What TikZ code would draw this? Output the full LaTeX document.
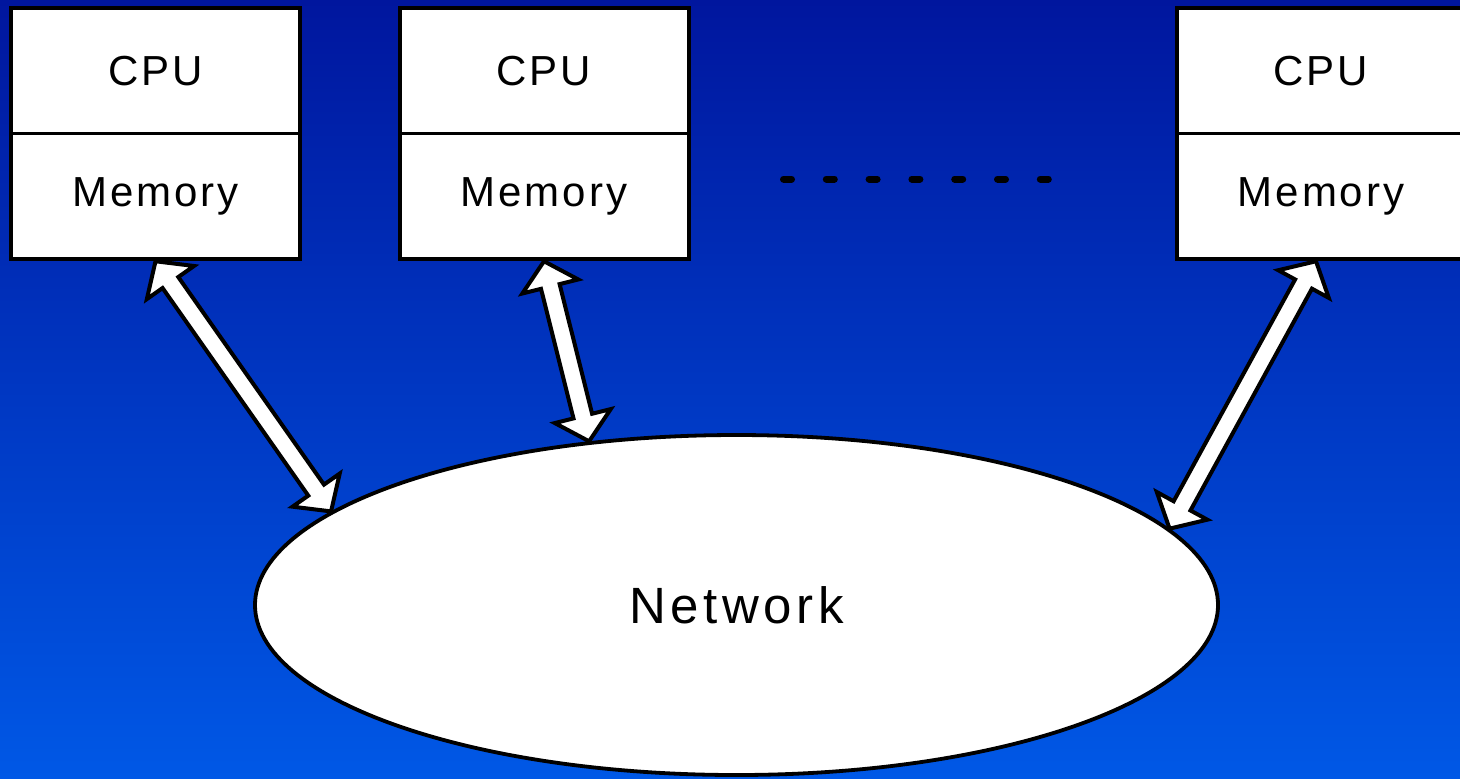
\documentclass[tikz,border=0pt]{standalone}
\usepackage{fontspec}
\setmainfont{Liberation Sans}
\newfontfamily\boxfont[LetterSpace=7]{Liberation Sans}
\newfontfamily\netfont[LetterSpace=9]{Liberation Sans}
\usetikzlibrary{calc,fit,shapes.geometric}

\definecolor{bgtop}{RGB}{0,22,158}
\definecolor{bgbot}{RGB}{0,88,230}

% block double arrow between two points: head length, head half-width, shaft half-width
\def\headlen{13pt}
\def\headhw{14.4pt}
\def\shafthw{4.8pt}
\newcommand\blockarrow[2]{%
  \draw[blockarrowstyle] (#1)
    -- ($(#1)!\headlen!(#2)!\headhw!90:(#2)$)
    -- ($(#1)!\headlen!(#2)!\shafthw!90:(#2)$)
    -- ($(#2)!\headlen!(#1)!\shafthw!-90:(#1)$)
    -- ($(#2)!\headlen!(#1)!\headhw!-90:(#1)$)
    -- (#2)
    -- ($(#2)!\headlen!(#1)!\headhw!90:(#1)$)
    -- ($(#2)!\headlen!(#1)!\shafthw!90:(#1)$)
    -- ($(#1)!\headlen!(#2)!\shafthw!-90:(#2)$)
    -- ($(#1)!\headlen!(#2)!\headhw!-90:(#2)$)
    -- cycle;}

\tikzset{
  cell/.style={rectangle, draw=black, fill=white, line width=1.5pt,
    minimum width=144.5pt, minimum height=62.75pt, inner sep=0pt, outer sep=0pt,
    font=\boxfont\fontsize{21}{25}\selectfont},
  frame/.style={rectangle, draw=black, line width=2pt, inner sep=0pt, outer sep=1pt},
  netnode/.style={ellipse, draw=black, fill=white, line width=1.9pt,
    minimum width=481.5pt, minimum height=170pt, inner sep=0pt,
    font=\netfont\fontsize{25.5}{30}\selectfont},
  blockarrowstyle/.style={draw=black, fill=white, line width=2pt, line join=miter},
  ellipsisdots/.style={draw=black, line width=3.5pt, line cap=round,
    dash pattern=on 4pt off 17.4pt}
}

\begin{document}
\begin{tikzpicture}[x=0.5pt, y=-0.5pt]
  \useasboundingbox (0,0) rectangle (1460,778);
  \clip (0,0) rectangle (1460,778);
  \shade[top color=bgtop, bottom color=bgbot] (0,0) rectangle (1460,778);

  % processing elements
  \node[cell] (cpu1) at (155.5,71) {CPU};
  \node[cell] (mem1) at (155.5,196.5) {Memory};
  \node[frame, fit=(cpu1)(mem1)] (box1) {};

  \node[cell] (cpu2) at (544,71) {CPU};
  \node[cell] (mem2) at (544,196.5) {Memory};
  \node[frame, fit=(cpu2)(mem2)] (box2) {};

  \node[cell] (cpu3) at (1321,71) {CPU};
  \node[cell] (mem3) at (1321,196.5) {Memory};
  \node[frame, fit=(cpu3)(mem3)] (box3) {};

  % more elements in between
  \coordinate (dotsL) at (783.5,179);
  \coordinate (dotsR) at (1048.5,179);
  \draw[ellipsisdots] (dotsL) -- (dotsR);

  % interconnect
  \node[netnode] (net) at (736.5,605) {Network};

  \blockarrow{box1.south}{net.167.7}
  \blockarrow{box2.south}{net.132}
  \blockarrow{$(box3.south)+(-5,0)$}{net.10.7}
\end{tikzpicture}
\end{document}
